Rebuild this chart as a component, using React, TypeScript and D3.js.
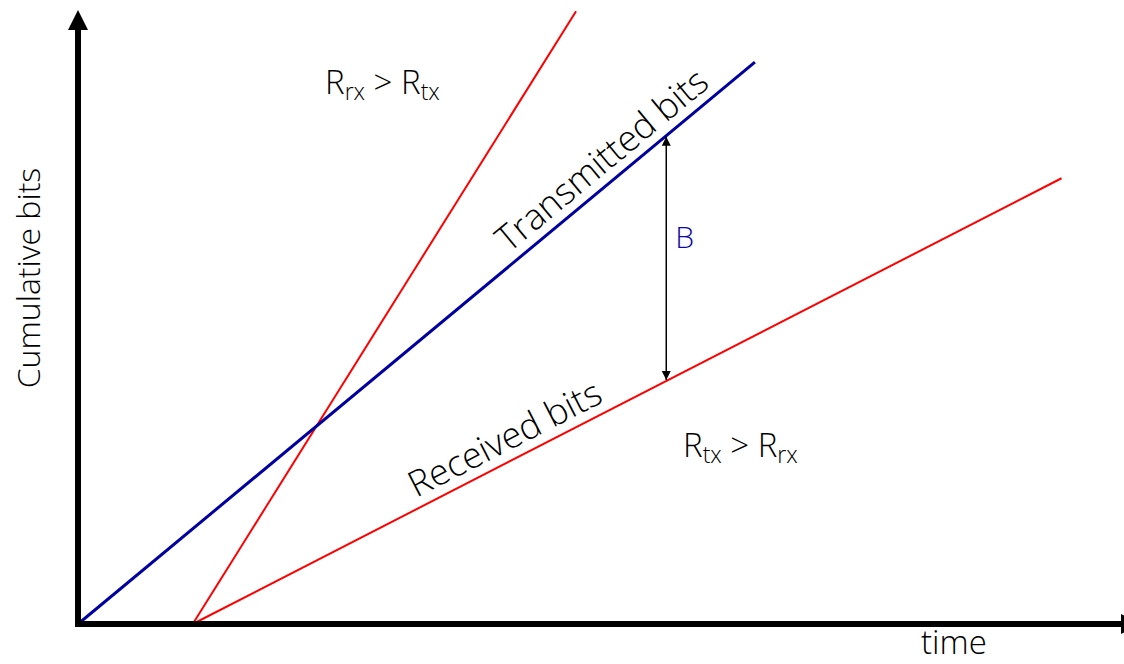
import React from "react";
import * as d3 from "d3";

// Data (time units 0..100, bits units 0..100)
const transmitted = [
  { t: 0, b: 0 },
  { t: 64.9, b: 91.5 },
];
const receivedFast = [
  { t: 11.0, b: 0 },
  { t: 47.75, b: 99.8 },
];
const receivedSlow = [
  { t: 11.0, b: 0 },
  { t: 94.3, b: 72.6 },
];
const bufferAt = 56.4;
const axisLabels = { x: "time", y: "Cumulative bits" };

const W = 1124;
const H = 664;

export default function App() {
  const x = d3.scaleLinear().domain([0, 100]).range([78, 1121]);
  const y = d3.scaleLinear().domain([0, 100]).range([624, 10]);
  const line = d3
    .line<{ t: number; b: number }>()
    .x((d) => x(d.t))
    .y((d) => y(d.b));

  const interp = (arr: { t: number; b: number }[], t: number) => {
    const [a, c] = arr;
    return a.b + ((c.b - a.b) * (t - a.t)) / (c.t - a.t);
  };
  const angle = (arr: { t: number; b: number }[]) => {
    const [a, c] = arr;
    return (Math.atan2(y(c.b) - y(a.b), x(c.t) - x(a.t)) * 180) / Math.PI;
  };

  const font = "'Open Sans', 'Noto Sans', sans-serif";
  const fw = 300;
  const bx = x(bufferAt);
  const bTop = y(interp(transmitted, bufferAt));
  const bBot = y(interp(receivedSlow, bufferAt));

  const txT = 51.6;
  const rxT = 41.9;

  return (
    <svg
      width={W}
      height={H}
      style={{ position: "absolute", left: 0, top: 0, background: "#fff" }}
      fontFamily={font}
      fontWeight={fw}
    >
      <defs>
        <marker id="ah" viewBox="0 0 10 10" refX="10" refY="5" markerWidth="9" markerHeight="12" markerUnits="userSpaceOnUse" orient="auto-start-reverse">
          <path d="M0,0 L10,5 L0,10 Z" fill="#000" />
        </marker>
      </defs>
      {/* lines */}
      <path d={line(receivedFast) || ""} stroke="#ff0000" strokeWidth={2} fill="none" />
      <path d={line(receivedSlow) || ""} stroke="#ff0000" strokeWidth={2} fill="none" />
      <path d={line(transmitted) || ""} stroke="#0000a0" strokeWidth={3} fill="none" />

      {/* axes */}
      <line x1={x(0)} y1={y(0)} x2={x(0)} y2={28} stroke="#000" strokeWidth={6} />
      <path d={`M${x(0) - 10},30 L${x(0)},10 L${x(0) + 10},30 Z`} fill="#000" />
      <line x1={x(0) - 3} y1={y(0)} x2={1122} y2={y(0)} stroke="#000" strokeWidth={6} />
      <path d={`M1121,${y(0) - 10} L1141,${y(0)} L1121,${y(0) + 10} Z`} fill="#000" />

      {/* buffer arrow */}
      <line
        x1={bx}
        y1={bTop + 1}
        x2={bx}
        y2={bBot - 1}
        stroke="#000"
        strokeWidth={1.5}
        markerStart="url(#ah)"
        markerEnd="url(#ah)"
      />
      <text x={bx + 9} y={bTop + 112} fontSize={30} fill="#0a0aaa">B</text>

      {/* line labels */}
      <text
        transform={`translate(${x(txT)},${y(interp(transmitted, txT))}) rotate(${angle(transmitted)})`}
        textAnchor="middle"
        dy={-10}
        fontSize={36}
        fill="#000"
      >
        Transmitted bits
      </text>
      <text
        transform={`translate(${x(rxT)},${y(interp(receivedSlow, rxT))}) rotate(${angle(receivedSlow)})`}
        textAnchor="middle"
        dy={-10}
        fontSize={36}
        fill="#000"
      >
        Received bits
      </text>

      {/* region labels */}
      <text x={325} y={94} fontSize={33} fill="#000">
        R<tspan fontSize={23} dy={6}>rx</tspan>
        <tspan dy={-6}> &gt; R</tspan>
        <tspan fontSize={23} dy={6}>tx</tspan>
      </text>
      <text x={683} y={457} fontSize={33} fill="#000">
        R<tspan fontSize={23} dy={6}>tx</tspan>
        <tspan dy={-6}> &gt; R</tspan>
        <tspan fontSize={23} dy={6}>rx</tspan>
      </text>

      {/* axis titles */}
      <text x={921} y={654} fontSize={33} fill="#000">{axisLabels.x}</text>
      <text
        transform={`translate(40,${278}) rotate(-90)`}
        textAnchor="middle"
        fontSize={32}
        fill="#000"
      >
        {axisLabels.y}
      </text>
    </svg>
  );
}
